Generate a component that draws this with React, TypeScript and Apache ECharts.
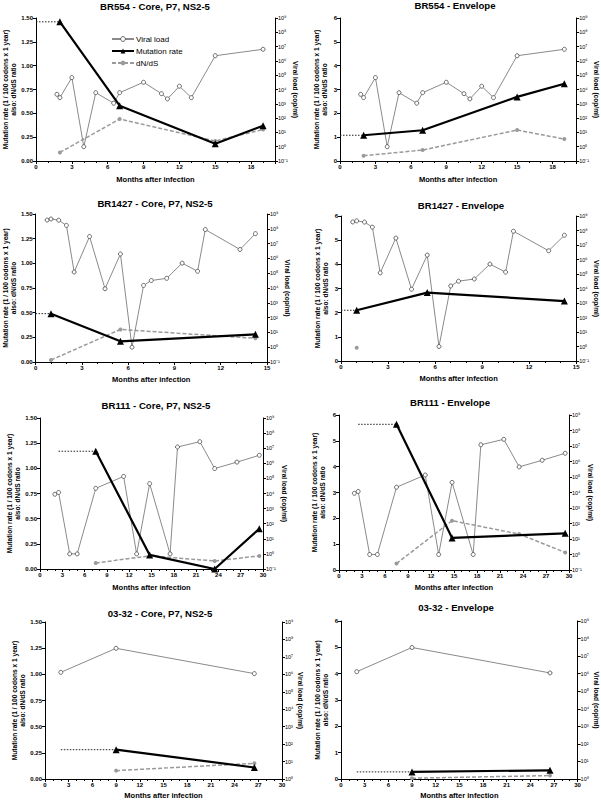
import React, { useEffect, useRef } from 'react';
import * as echarts from 'echarts';

const FONT = '"Liberation Sans", Arial, Helvetica, sans-serif';

// ---------- Data ----------
// Patient BR554
const vlMonths554 = [1.75, 2, 3, 4, 5, 6.5, 7, 9, 10.5, 11, 12, 13, 15, 19];
const viralLoad554 = [4600, 2700, 68000, 1, 6000, 1100, 6000, 32000, 5100, 2200, 17000, 2700, 2.3e6, 6.5e6];
const mutMonths554 = [2, 7, 15, 19];
const coreMutRate554 = [1.46, 0.58, 0.18, 0.37];
const coreDnds554 = [0.09, 0.44, 0.21, 0.33];
const envMutRate554 = [1.08, 1.29, 2.69, 3.24];
const envDnds554 = [0.22, 0.46, 1.3, 0.92];

// Patient BR1427
const vlMonths1427 = [0.75, 1, 1.5, 2, 2.5, 3.5, 4.5, 5.5, 6.25, 7, 7.5, 8.5, 9.5, 10.5, 11, 13.25, 14.25];
const viralLoad1427 = [3.9e8, 4.6e8, 3.8e8, 1.7e8, 1.2e5, 3.0e7, 8900, 2.0e6, 1, 15000, 32000, 45000, 4.8e5, 1.35e5, 8.9e7, 4.0e6, 4.7e7];
const mutMonths1427 = [1, 5.5, 14.25];
const coreMutRate1427 = [0.49, 0.21, 0.28];
const coreDnds1427 = [0.02, 0.33, 0.24];
const envMutRate1427 = [2.1, 2.83, 2.48];
const envDndsMonths1427 = [1];
const envDnds1427 = [0.55];

// Patient BR111
const vlMonths111 = [2, 2.5, 4, 5, 7.5, 11.25, 13, 14.75, 17.5, 18.5, 21.5, 23.5, 26.5, 29.5];
const viralLoad111 = [8900, 11700, 1, 1, 22000, 1.35e5, 1, 45000, 1, 1.2e7, 2.7e7, 4.5e5, 1.2e6, 3.4e6];
const coreMutMonths111 = [7.5, 14.75, 23.5, 29.5];
const coreMutRate111 = [1.17, 0.14, 0.0, 0.4];
const coreDnds111 = [0.06, 0.13, 0.08, 0.13];
const envMutMonths111 = [7.5, 14.75, 29.5];
const envMutRate111 = [5.64, 1.24, 1.42];
const envDndsMonths111 = [7.5, 14.75, 23.5, 29.5];
const envDnds111 = [0.25, 1.91, 1.39, 0.68];

// Patient 03-32
const vlMonths0332 = [2, 9, 26.5];
const viralLoad0332 = [1.3e6, 3.1e7, 1.1e6];
const mutMonths0332 = [9, 26.5];
const coreMutRate0332 = [0.28, 0.11];
const coreDnds0332 = [0.08, 0.15];
const envMutRate0332 = [0.27, 0.33];
const envDnds0332 = [0.03, 0.13];

// Start month of the dotted reference line drawn before the first mutation point
const dottedStart = [0, 0, 0, 0, 2.5, 2.5, 2, 2];

const panelTitles = [
  'BR554 - Core, P7, NS2-5',
  'BR554 - Envelope',
  'BR1427 - Core, P7, NS2-5',
  'BR1427 - Envelope',
  'BR111 - Core, P7, NS2-5',
  'BR111 - Envelope',
  '03-32 - Core, P7, NS2-5',
  '03-32 - Envelope',
];

const panelData = [
  { vlX: vlMonths554, vlY: viralLoad554, mX: mutMonths554, mY: coreMutRate554, dX: mutMonths554, dY: coreDnds554 },
  { vlX: vlMonths554, vlY: viralLoad554, mX: mutMonths554, mY: envMutRate554, dX: mutMonths554, dY: envDnds554 },
  { vlX: vlMonths1427, vlY: viralLoad1427, mX: mutMonths1427, mY: coreMutRate1427, dX: mutMonths1427, dY: coreDnds1427 },
  { vlX: vlMonths1427, vlY: viralLoad1427, mX: mutMonths1427, mY: envMutRate1427, dX: envDndsMonths1427, dY: envDnds1427 },
  { vlX: vlMonths111, vlY: viralLoad111, mX: coreMutMonths111, mY: coreMutRate111, dX: coreMutMonths111, dY: coreDnds111 },
  { vlX: vlMonths111, vlY: viralLoad111, mX: envMutMonths111, mY: envMutRate111, dX: envDndsMonths111, dY: envDnds111 },
  { vlX: vlMonths0332, vlY: viralLoad0332, mX: mutMonths0332, mY: coreMutRate0332, dX: mutMonths0332, dY: coreDnds0332 },
  { vlX: vlMonths0332, vlY: viralLoad0332, mX: mutMonths0332, mY: envMutRate0332, dX: mutMonths0332, dY: envDnds0332 },
];

// ---------- Layout ----------
const layout = [
  { left: 36, top: 18, right: 275, bottom: 161, xMax: 20, yMax: 1.5, yInt: 0.25, dec: 2, logMin: 0.1, gapL: 16, gapR: 14, gapX: 14, tx: 155, ty: 6 },
  { left: 340, top: 18, right: 577, bottom: 161, xMax: 20, yMax: 6, yInt: 1, dec: 0, logMin: 0.1, gapL: 12, gapR: 15, gapX: 14, tx: 455, ty: 5 },
  { left: 32, top: 214, right: 267, bottom: 362, xMax: 15, yMax: 1.5, yInt: 0.25, dec: 2, logMin: 0.1, gapL: 15, gapR: 14, gapX: 13, tx: 155, ty: 203 },
  { left: 341, top: 216, right: 579, bottom: 361, xMax: 15, yMax: 6, yInt: 1, dec: 0, logMin: 0.1, gapL: 12, gapR: 13, gapX: 13, tx: 461, ty: 205 },
  { left: 40, top: 418, right: 263, bottom: 569, xMax: 30, yMax: 1.5, yInt: 0.25, dec: 2, logMin: 0.1, gapL: 18, gapR: 18, gapX: 14, tx: 156, ty: 405 },
  { left: 339, top: 415, right: 569, bottom: 570, xMax: 30, yMax: 6, yInt: 1, dec: 0, logMin: 0.1, gapL: 13, gapR: 18, gapX: 13, tx: 450, ty: 402 },
  { left: 45, top: 622, right: 282, bottom: 779, xMax: 30, yMax: 1.5, yInt: 0.25, dec: 2, logMin: 1, gapL: 17, gapR: 11, gapX: 12, tx: 160, ty: 613 },
  { left: 341, top: 621, right: 579, bottom: 780, xMax: 30, yMax: 6, yInt: 1, dec: 0, logMin: 1, gapL: 12, gapR: 14, gapX: 12, tx: 456, ty: 607 },
];

const SUP: Record<string, string> = {
  '-': '\u207B', '0': '\u2070', '1': '\u00B9', '2': '\u00B2', '3': '\u00B3',
  '4': '\u2074', '5': '\u2075', '6': '\u2076', '7': '\u2077', '8': '\u2078', '9': '\u2079',
};
const pow10Label = (v: number) => {
  const e = Math.round(Math.log10(v));
  return '10' + String(e).split('').map((c) => SUP[c] || c).join('');
};

const zip = (xs: number[], ys: number[]) => xs.map((x, i) => [x, ys[i]]);

function buildOption() {
  const grid: any[] = [];
  const xAxis: any[] = [];
  const yAxis: any[] = [];
  const series: any[] = [];
  const graphic: any[] = [];

  layout.forEach((p, i) => {
    grid.push({ left: p.left, top: p.top, width: p.right - p.left, height: p.bottom - p.top, containLabel: false });
    xAxis.push({
      type: 'value', gridIndex: i, min: 0, max: p.xMax, interval: 3,
      name: 'Months after infection', nameLocation: 'middle', nameGap: p.gapX,
      nameTextStyle: { fontSize: 7.5, fontWeight: 'bold', color: '#000', fontFamily: FONT },
      axisLine: { show: true, onZero: false, lineStyle: { color: '#000', width: 1 } },
      axisTick: { show: true, length: 3, lineStyle: { color: '#000', width: 1 } },
      minorTick: { show: true, splitNumber: 3, length: 2, lineStyle: { color: '#000', width: 1 } },
      axisLabel: { fontSize: 6, fontWeight: 'bold', color: '#000', fontFamily: FONT, margin: 3, showMaxLabel: p.xMax % 3 === 0 },
      splitLine: { show: false },
    });
    yAxis.push({
      type: 'value', gridIndex: i, position: 'left', min: 0, max: p.yMax, interval: p.yInt,
      name: 'Mutation rate (1 / 100 codons x 1 year)\nalso: dN/dS ratio',
      nameLocation: 'middle', nameGap: p.gapL, nameRotate: 90,
      nameTextStyle: { fontSize: 6.6, fontWeight: 'bold', color: '#000', fontFamily: FONT, lineHeight: 8 },
      axisLine: { show: true, onZero: false, lineStyle: { color: '#000', width: 1 } },
      axisTick: { show: true, length: 3, lineStyle: { color: '#000', width: 1 } },
      axisLabel: { fontSize: 6, fontWeight: 'bold', color: '#000', fontFamily: FONT, margin: 3, formatter: (v: number) => v.toFixed(p.dec) },
      splitLine: { show: false },
    });
    yAxis.push({
      type: 'log', logBase: 10, gridIndex: i, position: 'right', min: p.logMin, max: 1e9,
      splitNumber: p.logMin === 1 ? 9 : 10,
      name: 'Viral load (cop/ml)', nameLocation: 'middle', nameGap: p.gapR, nameRotate: -90,
      nameTextStyle: { fontSize: 6.6, fontWeight: 'bold', color: '#000', fontFamily: FONT },
      axisLine: { show: true, onZero: false, lineStyle: { color: '#000', width: 1 } },
      axisTick: { show: true, length: 3, lineStyle: { color: '#000', width: 1 } },
      axisLabel: { fontSize: 5.5, color: '#000', fontFamily: FONT, margin: 3, formatter: pow10Label },
      splitLine: { show: false },
    });

    const d = panelData[i];
    const yL = 2 * i;
    const yR = 2 * i + 1;
    series.push({
      name: 'dN/dS', type: 'line', xAxisIndex: i, yAxisIndex: yL, z: 2,
      data: zip(d.dX, d.dY),
      symbol: 'circle', symbolSize: 4,
      itemStyle: { color: '#9a9a9a' },
      lineStyle: { color: '#9a9a9a', width: 1.5, type: [4, 2] },
    });
    series.push({
      name: 'Viral load', type: 'line', xAxisIndex: i, yAxisIndex: yR, z: 3,
      data: zip(d.vlX, d.vlY),
      symbol: 'circle', symbolSize: 4,
      itemStyle: { color: '#ffffff', borderColor: '#444', borderWidth: 0.8 },
      lineStyle: { color: '#8a8a8a', width: 1 },
    });
    series.push({
      name: 'baseline', type: 'line', xAxisIndex: i, yAxisIndex: yL, z: 3,
      data: [[dottedStart[i], d.mY[0]], [d.mX[0], d.mY[0]]],
      symbol: 'none', silent: true,
      lineStyle: { color: '#222', width: 1, type: [1.5, 1.5] },
    });
    series.push({
      name: 'Mutation rate', type: 'line', xAxisIndex: i, yAxisIndex: yL, z: 4,
      data: zip(d.mX, d.mY),
      symbol: 'triangle', symbolSize: 7,
      itemStyle: { color: '#000' },
      lineStyle: { color: '#000', width: 2.2 },
    });

    graphic.push({
      type: 'text', x: p.tx, y: p.ty, z: 10,
      style: {
        text: panelTitles[i], fill: '#000', font: `bold 9.6px ${FONT}`,
        textAlign: 'center', textVerticalAlign: 'middle',
      },
    });
  });

  return {
    animation: false,
    backgroundColor: '#fff',
    grid, xAxis, yAxis, series, graphic,
    legend: {
      data: [
        { name: 'Viral load', itemStyle: { color: '#fff', borderColor: '#444', borderWidth: 0.8 } },
        { name: 'Mutation rate' },
        { name: 'dN/dS' },
      ],
      orient: 'vertical', left: 106, top: 30, itemGap: 4, itemWidth: 22, itemHeight: 6,
      textStyle: { fontSize: 8, color: '#000', fontFamily: FONT, padding: [0, 0, 0, -3] },
      selectedMode: false,
    },
  };
}

export default function App() {
  const ref = useRef<HTMLDivElement>(null);
  useEffect(() => {
    if (!ref.current) return;
    const chart = echarts.init(ref.current, undefined, { renderer: 'svg' });
    chart.setOption(buildOption() as any);
    return () => chart.dispose();
  }, []);
  return (
    <div
      ref={ref}
      style={{ position: 'absolute', left: 0, top: 0, width: 601, height: 800, background: '#fff' }}
    />
  );
}
